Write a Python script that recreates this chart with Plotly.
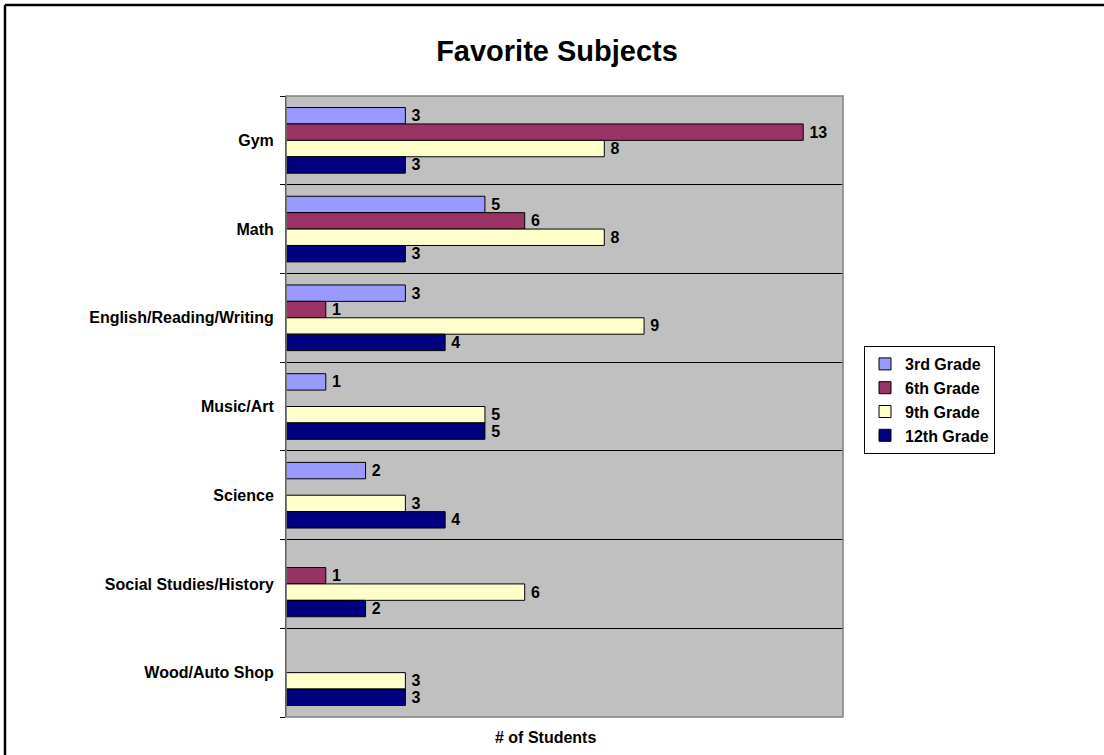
import plotly.graph_objects as go

# Survey results: favorite school subject by grade level
subjects = [
    "Gym",
    "Math",
    "English/Reading/Writing",
    "Music/Art",
    "Science",
    "Social Studies/History",
    "Wood/Auto Shop",
]
grade_names = ["3rd Grade", "6th Grade", "9th Grade", "12th Grade"]
grade3 = [3, 5, 3, 1, 2, None, None]
grade6 = [13, 6, 1, None, None, 1, None]
grade9 = [8, 8, 9, 5, 3, 6, 3]
grade12 = [3, 3, 4, 5, 4, 2, 3]
grade_colors = ["#9999FF", "#993366", "#FFFFCC", "#000080"]

FONT = "Arial, Liberation Sans, sans-serif"
W, H = 1104, 755
ML, MR, MT, MB = 286, 261, 96, 38

fig = go.Figure()
for name, vals, color in zip(grade_names, [grade3, grade6, grade9, grade12], grade_colors):
    fig.add_trace(go.Bar(
        y=subjects,
        x=vals,
        name=f"<b>{name}</b>",
        orientation="h",
        marker=dict(color=color, line=dict(color="#000000", width=1)),
        text=[("" if v is None else str(v)) for v in vals],
        texttemplate="\u2009<b>%{text}</b>",
        textposition="outside",
        constraintext="none",
        cliponaxis=False,
        textfont=dict(family=FONT, size=16, color="#000000"),
    ))

pw = W - ML - MR
ph = H - MT - MB
# outer chart border: only its left and top edges fall inside the page
fig.add_shape(
    type="line", xref="paper", yref="paper",
    x0=(5 - ML) / pw, x1=(5 - ML) / pw,
    y0=-(MB + 10) / ph, y1=1 + (MT - 5) / ph,
    line=dict(color="#000000", width=2.5), layer="below",
)
fig.add_shape(
    type="line", xref="paper", yref="paper",
    x0=(5 - ML) / pw, x1=1 + (MR + 10) / pw,
    y0=1 + (MT - 5) / ph, y1=1 + (MT - 5) / ph,
    line=dict(color="#000000", width=2.5), layer="below",
)
# plot-area frame
fig.add_shape(
    type="rect", xref="paper", yref="paper", x0=0, x1=1, y0=0, y1=1,
    line=dict(color="#808080", width=1.5), fillcolor="rgba(0,0,0,0)", layer="above",
)
# value-axis caption
fig.add_annotation(
    text="<b># of Students</b>",
    xref="paper", yref="paper",
    x=(545 - ML) / pw, y=-(737 - (H - MB)) / ph,
    xanchor="center", yanchor="middle", showarrow=False,
    font=dict(family=FONT, size=16, color="#000000"),
)

fig.update_layout(
    width=W, height=H,
    margin=dict(l=ML, r=MR, t=MT, b=MB),
    paper_bgcolor="#FFFFFF",
    plot_bgcolor="#C0C0C0",
    barmode="group",
    bargap=0.26,
    bargroupgap=0,
    font=dict(family=FONT, color="#000000"),
    title=dict(
        text="<b>Favorite Subjects</b>",
        x=557 / W, xanchor="center",
        y=1 - 51 / H, yanchor="middle",
        font=dict(family=FONT, size=29, color="#000000"),
    ),
    xaxis=dict(
        range=[0, 14],
        showticklabels=False,
        showgrid=False,
        zeroline=False,
        ticks="",
    ),
    yaxis=dict(
        autorange="reversed",
        type="category",
        tickson="boundaries",
        ticks="outside",
        ticklen=5,
        tickcolor="#000000",
        showline=True,
        linecolor="#000000",
        linewidth=1,
        showgrid=True,
        gridcolor="#000000",
        gridwidth=1,
        tickvals=subjects,
        ticktext=[f"<b>{s}</b>" for s in subjects],
        tickfont=dict(family=FONT, size=16, color="#000000"),
        ticklabelstandoff=8,
    ),
    legend=dict(
        x=864 / W, xanchor="left",
        y=1 - 400 / H, yanchor="middle",
        xref="container", yref="container",
        bgcolor="#FFFFFF",
        bordercolor="#000000",
        borderwidth=1,
        font=dict(family=FONT, size=16, color="#000000"),
        itemwidth=30,
    ),
)

fig.write_html("out.html")
